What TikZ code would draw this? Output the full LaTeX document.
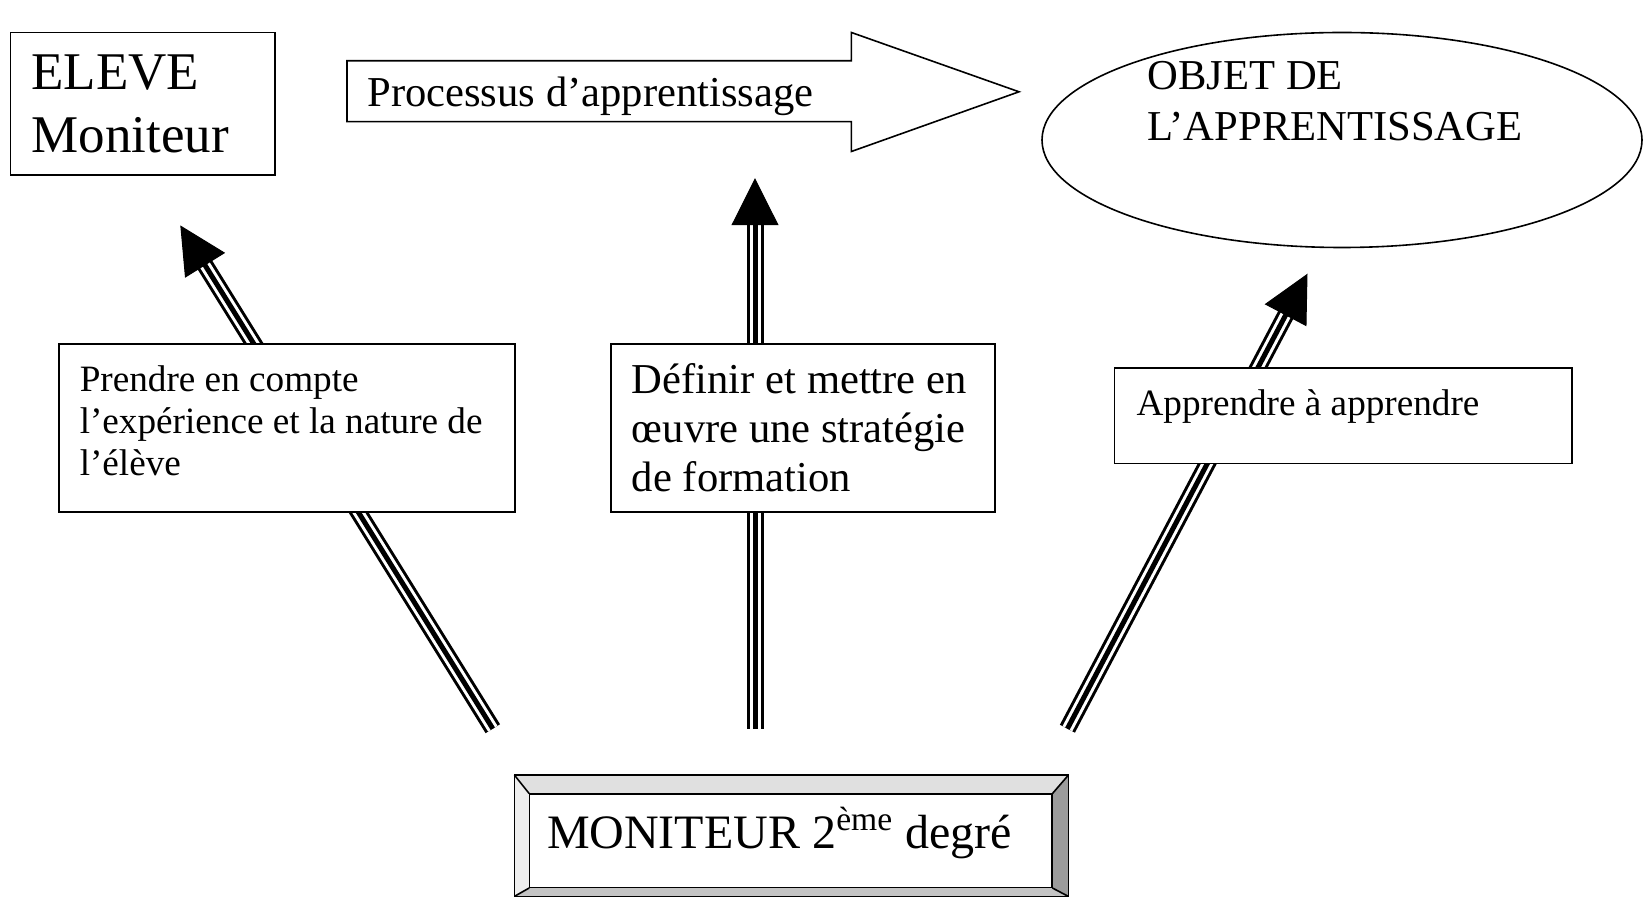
\documentclass[tikz,border=0pt]{standalone}
\usepackage{fontspec}
\setmainfont{Liberation Serif}
\usetikzlibrary{arrows.meta,shapes.geometric,calc}
\definecolor{bevtop}{HTML}{E0E0E0}
\definecolor{bevleft}{HTML}{EEEEEE}
\definecolor{bevright}{HTML}{9C9C9C}
\definecolor{bevbottom}{HTML}{C4C4C4}
\tikzset{
  box/.style={draw, line width=0.8pt, fill=white, rectangle, inner ysep=0pt, align=flush left},
  smalltext/.style={font=\fontsize{18.6}{21}\selectfont},
  midtext/.style={font=\fontsize{21.3}{24.4}\selectfont},
  bigtext/.style={font=\fontsize{26.5}{31.5}\selectfont},
  outline/.style={line width=0.8pt},
}
\newcommand\triarrow[2]{%
  \draw[line width=8.5pt, shorten >=22pt] (#1) -- (#2);
  \draw[white, line width=5.5pt, shorten >=22pt] (#1) -- (#2);
  \draw[line width=2.5pt, shorten >=22pt] (#1) -- (#2);
  \draw[line width=0.5pt, -{Triangle[length=23.5pt,width=23.5pt]}] (#1) -- (#2);}
\begin{document}
\begin{tikzpicture}[x=0.5pt,y=-0.5pt]
\path[use as bounding box, fill=white] (0,0) rectangle (1644,897);

% arrow end points
\coordinate (ltail) at (492.8,728.7);
\coordinate (ltip) at (180.3,225.4);
\coordinate (mtail) at (755,728.7);
\coordinate (mtip) at (755,178.2);
\coordinate (rtail) at (1067.4,728.7);
\coordinate (rtip) at (1307.5,273.7);
\triarrow{ltail}{ltip}
\triarrow{mtail}{mtip}
\triarrow{rtail}{rtip}

% ELEVE box
\node[box, bigtext, inner xsep=10.5pt, text width=111.1pt, minimum height=71.3pt] (eleve) at (142.6,103.8) {\mbox{ELEVE}\\\mbox{Moniteur}};

% block arrow
\coordinate (pa1) at (347,60.8);
\coordinate (pa2) at (851.4,60.8);
\coordinate (pa3) at (851.4,32.5);
\coordinate (pa4) at (1019,91.8);
\coordinate (pa5) at (851.4,151.5);
\coordinate (pa6) at (851.4,121.6);
\coordinate (pa7) at (347,121.6);
\draw[outline, fill=white] (pa1) -- (pa2) -- (pa3) -- (pa4) -- (pa5) -- (pa6) -- (pa7) -- cycle;
\node[midtext, anchor=west, inner sep=0pt] (proc) at (367,96) {Processus d’apprentissage};

% ellipse
\node[ellipse, draw, outline, minimum width=300pt, minimum height=107.5pt, inner sep=0pt,
  label={[font=\fontsize{21.3}{25.5}\selectfont, align=flush left, yshift=19.2pt, xshift=-3.5pt]center:{OBJET DE\\L’APPRENTISSAGE}}] (objet) at (1342,140) {};

% middle boxes
\node[box, smalltext, inner xsep=10.5pt, text width=207pt, minimum height=83.9pt, text depth=49.6pt] (exp) at (286.75,427.85)
  {\mbox{Prendre en compte}\\\mbox{l’expérience et la nature de}\\\mbox{l’élève}};
\node[box, midtext, inner xsep=10.35pt, text width=171.2pt, minimum height=83.9pt] (strat) at (803.15,427.85)
  {\mbox{Définir et mettre en}\\\mbox{œuvre une stratégie}\\\mbox{de formation}};
\node[box, font=\fontsize{18.6}{21}\selectfont, inner xsep=11pt, text width=206.6pt, minimum height=47.7pt, text depth=12.8pt] (app) at (1343.15,415.7)
  {\mbox{Apprendre à apprendre}};

% bevel box
\node[rectangle, minimum width=276.6pt, minimum height=60.25pt, inner sep=0pt] (frame) at (791.4,835.75) {};
\node[rectangle, minimum width=261.2pt, minimum height=46.8pt, inner sep=0pt] (innerbox) at (790.8,840.8) {};
\fill[bevtop] (frame.north west) -- (frame.north east) -- (innerbox.north east) -- (innerbox.north west) -- cycle;
\fill[bevleft] (frame.north west) -- (innerbox.north west) -- (innerbox.south west) -- (frame.south west) -- cycle;
\fill[bevright] (frame.north east) -- (frame.south east) -- (innerbox.south east) -- (innerbox.north east) -- cycle;
\fill[bevbottom] (frame.south west) -- (innerbox.south west) -- (innerbox.south east) -- (frame.south east) -- cycle;
\draw[outline] (frame.north west) -- (innerbox.north west);
\draw[outline] (frame.north east) -- (innerbox.north east);
\draw[outline] (frame.south west) -- (innerbox.south west);
\draw[outline] (frame.south east) -- (innerbox.south east);
\draw[outline] (frame.north west) rectangle (frame.south east);
\node[box, font=\fontsize{24}{28}\selectfont, inner xsep=8.7pt, text width=243.8pt, minimum height=46.8pt, text depth=13pt] (moniteur) at (innerbox.center)
  {\mbox{MONITEUR 2\textsuperscript{ème} degré}};
\end{tikzpicture}
\end{document}
